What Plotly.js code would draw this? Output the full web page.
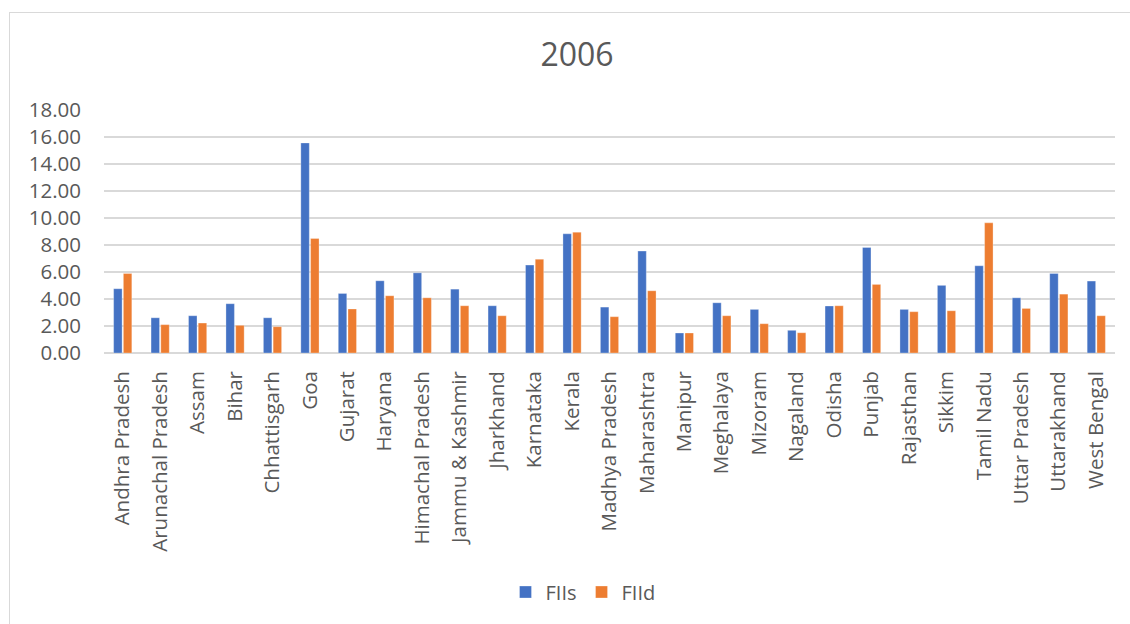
<!DOCTYPE html>
<html>
<head>
<meta charset="utf-8">
<script src="https://cdn.plot.ly/plotly-3.0.1.min.js"></script>
<style>
  html, body { margin: 0; padding: 0; background: #ffffff; }
  #wrap { position: relative; width: 1130px; height: 624px; overflow: hidden; }
  #chart { position: absolute; left: 0; top: 0; width: 1130px; height: 624px; }
  #frame { position: absolute; left: 9px; top: 12px; width: 1200px; height: 700px;
           border-top: 1px solid #d9d9d9; border-left: 1px solid #d9d9d9;
           pointer-events: none; }
</style>
</head>
<body>
<div id="wrap">
  <div id="chart"></div>
  <div id="frame"></div>
</div>
<script>
// States covered in the 2006 comparison
const states = [
  "Andhra Pradesh", "Arunachal Pradesh", "Assam", "Bihar", "Chhattisgarh",
  "Goa", "Gujarat", "Haryana", "Himachal Pradesh", "Jammu & Kashmir",
  "Jharkhand", "Karnataka", "Kerala", "Madhya Pradesh", "Maharashtra",
  "Manipur", "Meghalaya", "Mizoram", "Nagaland", "Odisha",
  "Punjab", "Rajasthan", "Sikkim", "Tamil Nadu", "Uttar Pradesh",
  "Uttarakhand", "West Bengal"
];

// FIIs series
const fiis = [
  4.76, 2.61, 2.76, 3.65, 2.61,
  15.56, 4.41, 5.35, 5.94, 4.73,
  3.50, 6.51, 8.83, 3.40, 7.55,
  1.48, 3.72, 3.23, 1.68, 3.48,
  7.82, 3.23, 5.01, 6.46, 4.09,
  5.89, 5.33
];

// FIId series
const fiid = [
  5.89, 2.10, 2.22, 2.05, 1.95,
  8.48, 3.26, 4.24, 4.09, 3.50,
  2.76, 6.95, 8.95, 2.69, 4.61,
  1.48, 2.76, 2.17, 1.50, 3.50,
  5.08, 3.06, 3.13, 9.64, 3.30,
  4.36, 2.76
];

// Y axis ticks
const yTicks = [0, 2, 4, 6, 8, 10, 12, 14, 16, 18];
const yTickText = yTicks.map(v => v.toFixed(2));

const font = "'Open Sans', 'Liberation Sans', sans-serif";
const textColor = "#595959";

const traces = [
  {
    type: "bar", name: "FIIs", x: states, y: fiis,
    marker: { color: "#4472C4", line: { color: "rgba(255,255,255,0.5)", width: 0.6 } },
    hoverinfo: "x+y+name"
  },
  {
    type: "bar", name: "FIId", x: states, y: fiid,
    marker: { color: "#ED7D31", line: { color: "rgba(255,255,255,0.5)", width: 0.6 } },
    hoverinfo: "x+y+name"
  }
];

const layout = {
  width: 1130, height: 624,
  margin: { l: 104, r: 15, t: 110, b: 271, pad: 0 },
  paper_bgcolor: "rgba(0,0,0,0)",
  plot_bgcolor: "#ffffff",
  font: { family: font, color: textColor, size: 20 },
  title: {
    text: "2006",
    font: { family: font, size: 32, color: textColor },
    xref: "container", x: 577 / 1130, xanchor: "center",
    yref: "container", y: 1 - 55 / 624, yanchor: "middle"
  },
  barmode: "group",
  bargap: 0.48,
  bargroupgap: 0.13,
  xaxis: {
    type: "category",
    tickangle: -90,
    tickfont: { family: font, size: 20.5, color: textColor },
    showgrid: false,
    showline: false,
    ticks: "",
    ticklabelstandoff: 13,
    fixedrange: true
  },
  yaxis: {
    range: [0, 18],
    tickvals: yTicks,
    ticktext: yTickText,
    tickfont: { family: font, size: 20.5, color: textColor },
    showgrid: true,
    gridcolor: "#d9d9d9",
    gridwidth: 1.3,
    zeroline: true,
    zerolinecolor: "#d9d9d9",
    zerolinewidth: 1.3,
    showline: false,
    ticks: "",
    ticklabelstandoff: 22,
    fixedrange: true
  },
  showlegend: true,
  legend: {
    orientation: "h",
    xref: "paper", x: (583 - 104) / 1011, xanchor: "center",
    yref: "paper", y: (353 - 592) / 243, yanchor: "middle",
    font: { family: font, size: 20, color: textColor },
    itemwidth: 30,
    tracegroupgap: 0
  }
};

Plotly.newPlot("chart", traces, layout, { displayModeBar: false, staticPlot: true });
</script>
</body>
</html>
